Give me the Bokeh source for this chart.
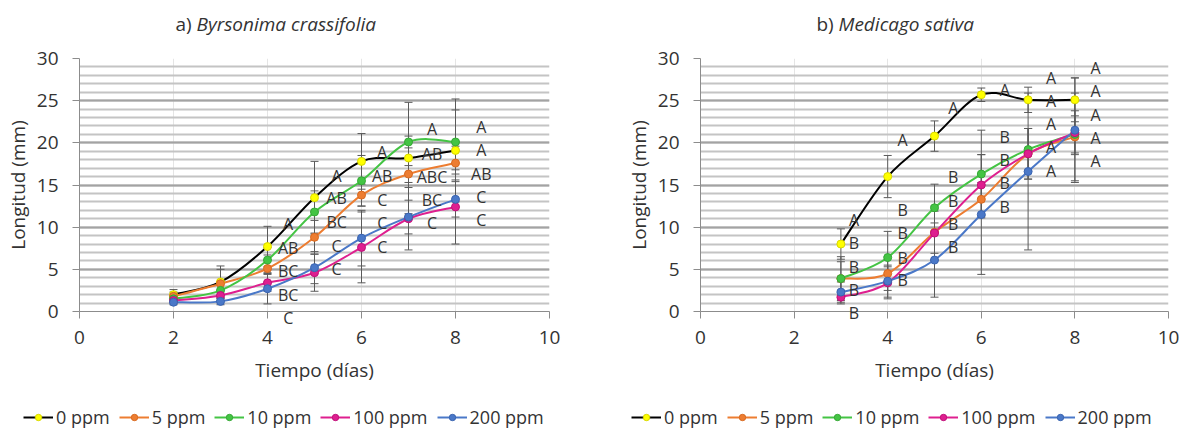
import numpy as np
from bokeh.plotting import figure
from bokeh.models import (ColumnDataSource, Whisker, TeeHead, LabelSet, Label, Legend,
                          LegendItem, SingleIntervalTicker, FixedTicker, LinearAxis, Range1d)
from bokeh.layouts import row, column
from bokeh.core.properties import value
from bokeh.embed import file_html
from bokeh.resources import INLINE

FONT = "Open Sans"
TXT = "#333333"
AXC = "#8c8c8c"

series_names = ["0 ppm", "5 ppm", "10 ppm", "100 ppm", "200 ppm"]
line_colors = ["#000000", "#ED7D31", "#44C444", "#DE1F8F", "#4A78C8"]
marker_colors = ["#FFFF00", "#ED7D31", "#44C444", "#DE1F8F", "#4A78C8"]
marker_edges = ["#D8D800", "#D86A20", "#36A836", "#C0107A", "#3A64B0"]

# a) Byrsonima crassifolia
days_a = [2, 3, 4, 5, 6, 7, 8]
a_0 = [2.0, 3.5, 7.7, 13.5, 17.8, 18.2, 19.1]
a_5 = [1.8, 3.3, 5.1, 8.8, 13.8, 16.3, 17.6]
a_10 = [1.5, 2.5, 6.1, 11.8, 15.5, 20.1, 20.1]
a_100 = [1.3, 1.9, 3.4, 4.6, 7.6, 11.0, 12.4]
a_200 = [1.1, 1.2, 2.7, 5.2, 8.7, 11.2, 13.3]
a_err_0 = [0.6, 1.9, 2.4, 4.3, 3.3, 6.6, 6.1]
a_err_5 = [0.5, 1.7, 1.6, 2.0, 1.3, 1.0, 2.0]
a_err_10 = [0.4, 1.0, 1.5, 2.5, 3.0, 0.7, 3.8]
a_err_100 = [0.3, 0.6, 1.0, 2.2, 4.2, 3.7, 4.4]
a_err_200 = [0.3, 0.4, 1.8, 1.9, 3.3, 2.0, 2.1]
a_lab_x = [4.44] * 5 + [5.47] * 5 + [6.44] * 5 + [7.5] * 5 + [8.55] * 5
a_lab_y = [10.4, 7.5, 4.8, 1.9, -0.8,
           16.1, 13.4, 10.6, 7.8, 5.0,
           18.9, 16.1, 13.2, 10.5, 7.7,
           21.6, 18.7, 16.0, 13.2, 10.5,
           21.9, 19.2, 16.3, 13.6, 10.8]
a_lab_t = ["A", "AB", "BC", "BC", "C",
           "A", "AB", "BC", "C", "C",
           "A", "AB", "C", "C", "C",
           "A", "AB", "ABC", "BC", "C",
           "A", "A", "AB", "C", "C"]

# b) Medicago sativa
days_b = [3, 4, 5, 6, 7, 8]
b_0 = [8.0, 16.0, 20.8, 25.7, 25.1, 25.1]
b_5 = [3.9, 4.5, 9.4, 13.3, 18.7, 20.7]
b_10 = [3.9, 6.4, 12.3, 16.3, 19.2, 21.0]
b_100 = [1.7, 3.4, 9.3, 15.0, 18.7, 21.2]
b_200 = [2.3, 3.6, 6.1, 11.5, 16.6, 21.5]
b_err_0 = [1.8, 2.5, 1.8, 0.8, 1.5, 2.6]
b_err_5 = [2.0, 2.0, 2.5, 2.0, 3.0, 5.2]
b_err_10 = [2.6, 3.1, 2.8, 5.2, 2.5, 2.2]
b_err_100 = [0.8, 1.9, 3.2, 3.6, 3.0, 2.6]
b_err_200 = [1.2, 1.9, 4.4, 7.1, 9.3, 6.2]
b_lab_x = [3.28] * 5 + [4.32] * 5 + [5.4] * 5 + [6.5] * 5 + [7.49] * 5 + [8.44] * 5
b_lab_y = [10.8, 8.1, 5.3, 2.5, -0.3,
           20.3, 12.0, 9.3, 6.4, 3.7,
           24.1, 15.9, 13.1, 10.4, 7.6,
           26.3, 20.7, 18.0, 15.2, 12.4,
           27.7, 25.0, 22.2, 19.5, 16.7,
           28.9, 26.1, 23.3, 20.6, 17.8]
b_lab_t = ["A", "B", "B", "B", "B",
           "A", "B", "B", "B", "B",
           "A", "B", "B", "B", "B",
           "A", "B", "B", "B", "B",
           "A", "A", "A", "A", "A",
           "A", "A", "A", "A", "A"]

x_label = "Tiempo (días)"
y_label = "Longitud (mm)"
x_ticks = [0, 2, 4, 6, 8, 10]


def smooth_segments(x, y, t=1.0 / 6.0):
    x = np.asarray(x, float)
    y = np.asarray(y, float)
    n = len(x)
    d = dict(x0=[], y0=[], x1=[], y1=[], cx0=[], cy0=[], cx1=[], cy1=[])
    for i in range(n - 1):
        ip = max(i - 1, 0)
        inn = min(i + 2, n - 1)
        d["x0"].append(x[i]); d["y0"].append(y[i])
        d["x1"].append(x[i + 1]); d["y1"].append(y[i + 1])
        d["cx0"].append(x[i] + (x[i + 1] - x[ip]) * t)
        d["cy0"].append(y[i] + (y[i + 1] - y[ip]) * t)
        d["cx1"].append(x[i + 1] - (x[inn] - x[i]) * t)
        d["cy1"].append(y[i + 1] - (y[inn] - y[i]) * t)
    return d


def title_strip(width, prefix, species, x_pre, x_sp):
    t = figure(width=width, height=45, x_range=Range1d(0, width), y_range=Range1d(0, 45),
               output_backend="svg", toolbar_location=None, x_axis_location=None,
               y_axis_location=None, min_border=0)
    t.outline_line_color = None
    t.grid.visible = False
    t.add_layout(Label(x=x_pre, y=22, text=prefix, text_align="left", text_baseline="middle",
                       text_font=FONT, text_font_size="19px", text_color=TXT))
    t.add_layout(Label(x=x_sp, y=22, text=species, text_align="left", text_baseline="middle",
                       text_font=FONT, text_font_size="19px", text_font_style="italic",
                       text_color=TXT))
    return t


def legend_strip(width, x0, days, vals):
    # the series are drawn here too, but the view range keeps them out of sight:
    # this strip only shows the legend
    s = figure(width=width, height=28, x_range=Range1d(0, 10), y_range=Range1d(100, 101),
               output_backend="svg", toolbar_location=None, x_axis_location=None,
               y_axis_location=None, min_border=0)
    s.outline_line_color = None
    s.grid.visible = False
    items = []
    for k in range(5):
        ln = s.line(x=days, y=vals[k], line_color=line_colors[k], line_width=2)
        sc = s.scatter(x=days, y=vals[k], size=8, marker="circle", fill_color=marker_colors[k],
                       line_color=marker_edges[k], line_width=1)
        items.append(LegendItem(label=series_names[k], renderers=[ln, sc]))
    leg = Legend(items=items, orientation="horizontal", location=(x0, -1),
                 glyph_width=30, glyph_height=16, label_standoff=3, spacing=9,
                 padding=0, margin=0, border_line_color=None, background_fill_alpha=0,
                 label_text_font=FONT, label_text_font_size="18px", label_text_color=TXT)
    s.add_layout(leg)
    return s


def panel(days, vals, errs, lab_x, lab_y, lab_t, width, bl, br, s_letters, s_main):
    p = figure(width=width, height=355, x_range=Range1d(0, 10), y_range=Range1d(0, 30),
               output_backend="svg", toolbar_location=None, x_axis_location=None,
               min_border_left=bl, min_border_right=br, min_border_top=13,
               min_border_bottom=89)
    p.outline_line_color = None

    yax = p.yaxis[0]
    yax.ticker = SingleIntervalTicker(interval=5, num_minor_ticks=5)
    yax.axis_line_color = AXC
    yax.major_tick_line_color = AXC
    yax.major_tick_in = 0
    yax.major_tick_out = 7
    yax.minor_tick_in = 0
    yax.minor_tick_out = 0
    yax.major_label_text_font = FONT
    yax.major_label_text_font_size = "19px"
    yax.major_label_text_color = TXT
    yax.major_label_standoff = 14
    yax.axis_label = y_label
    yax.axis_label_text_font = FONT
    yax.axis_label_text_font_size = "19px"
    yax.axis_label_text_font_style = "normal"
    yax.axis_label_text_color = TXT
    yax.axis_label_standoff = 3

    # letters that sit just under the x axis, plus axis line and tick marks
    lab_x = np.asarray(lab_x); lab_y = np.asarray(lab_y); lab_t = np.asarray(lab_t)
    below = lab_y < 0
    bx = [float(v) for v in lab_x[below]]
    lax = LinearAxis(ticker=FixedTicker(ticks=bx, minor_ticks=x_ticks),
                     major_label_overrides={v: str(t) for v, t in zip(bx, lab_t[below])})
    lax.axis_line_color = AXC
    lax.major_tick_line_color = None
    lax.major_tick_in = 0
    lax.major_tick_out = 0
    lax.minor_tick_line_color = AXC
    lax.minor_tick_in = 0
    lax.minor_tick_out = 7
    lax.major_label_text_font = FONT
    lax.major_label_text_font_size = "16px"
    lax.major_label_text_color = TXT
    lax.major_label_standoff = s_letters
    p.add_layout(lax, "below")

    xax = LinearAxis(ticker=FixedTicker(ticks=x_ticks, minor_ticks=[]))
    xax.axis_line_color = None
    xax.major_tick_line_color = None
    xax.major_tick_in = 0
    xax.major_tick_out = 0
    xax.minor_tick_out = 0
    xax.major_label_text_font = FONT
    xax.major_label_text_font_size = "19px"
    xax.major_label_text_color = TXT
    xax.major_label_standoff = s_main
    xax.axis_label = x_label
    xax.axis_label_text_font = FONT
    xax.axis_label_text_font_size = "19px"
    xax.axis_label_text_font_style = "normal"
    xax.axis_label_text_color = TXT
    xax.axis_label_standoff = 10
    p.add_layout(xax, "below")

    p.ygrid.grid_line_color = "#a3a3a3"
    p.ygrid.grid_line_width = 2
    p.ygrid.minor_grid_line_color = "#c4c4c4"
    p.ygrid.minor_grid_line_width = 2

    for k in range(5):
        seg = ColumnDataSource(smooth_segments(days, vals[k]))
        p.bezier(x0="x0", y0="y0", x1="x1", y1="y1", cx0="cx0", cy0="cy0",
                 cx1="cx1", cy1="cy1", source=seg, line_color=line_colors[k], line_width=2)
    for k in range(5):
        v = np.asarray(vals[k]); e = np.asarray(errs[k])
        src = ColumnDataSource(dict(x=days, y=v, lo=v - e, hi=v + e))
        w = Whisker(base="x", upper="hi", lower="lo", source=src, dimension="height",
                    line_color="#5a5a5a", line_width=1,
                    upper_head=TeeHead(size=8, line_color="#5a5a5a", line_width=1),
                    lower_head=TeeHead(size=8, line_color="#5a5a5a", line_width=1))
        p.add_layout(w)
    for k in range(5):
        src = ColumnDataSource(dict(x=days, y=vals[k]))
        p.scatter("x", "y", source=src, size=8, marker="circle",
                  fill_color=marker_colors[k], line_color=marker_edges[k], line_width=1)

    above = ~below
    lsrc = ColumnDataSource(dict(x=lab_x[above].tolist(), y=lab_y[above].tolist(),
                                 t=lab_t[above].tolist()))
    p.add_layout(LabelSet(x="x", y="y", text="t", source=lsrc, text_align="center",
                          text_baseline="middle", text_font=value(FONT),
                          text_font_size=value("16px"), text_color=TXT))
    return p


vals_a = [a_0, a_5, a_10, a_100, a_200]
vals_b = [b_0, b_5, b_10, b_100, b_200]
t1 = title_strip(592, "a)", "Byrsonima crassifolia", 175, 196)
t2 = title_strip(593, "b)", "Medicago sativa", 224, 246)
p1 = panel(days_a, vals_a, [a_err_0, a_err_5, a_err_10, a_err_100, a_err_200],
           a_lab_x, a_lab_y, a_lab_t, 592, 79, 43, -12, -1)
p2 = panel(days_b, vals_b, [b_err_0, b_err_5, b_err_10, b_err_100, b_err_200],
           b_lab_x, b_lab_y, b_lab_t, 593, 108, 17, -17, 4)
l1 = legend_strip(592, 23, days_a, vals_a)
l2 = legend_strip(593, 39, days_b, vals_b)

layout = column(row(t1, t2), row(p1, p2), row(l1, l2))
open("out.html", "w").write(file_html(layout, INLINE))
